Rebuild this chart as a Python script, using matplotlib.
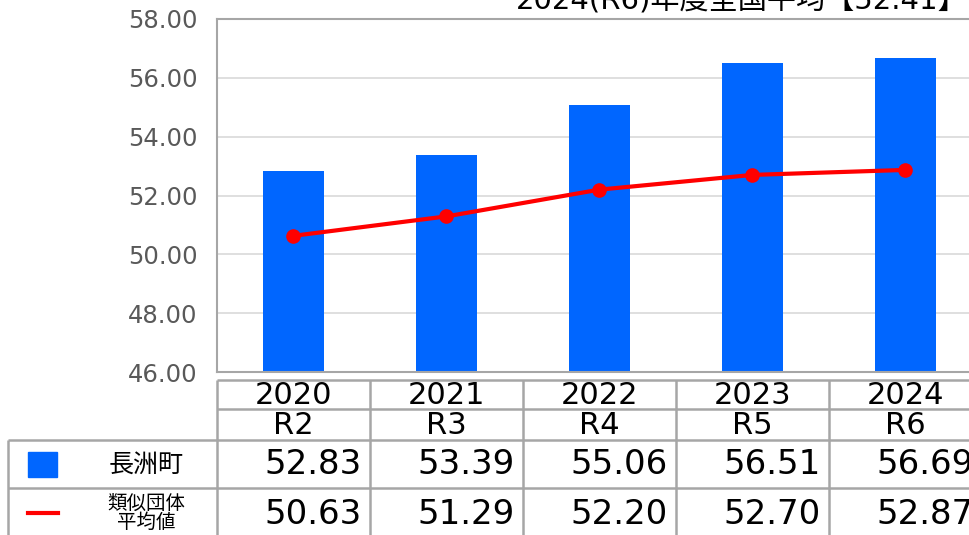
import matplotlib
matplotlib.use('Agg')
import matplotlib.pyplot as plt
import numpy as np

plt.rcParams['font.family'] = ['DejaVu Sans', 'Noto Sans CJK JP']

# data
years = ['2020', '2021', '2022', '2023', '2024']
eras = ['R2', 'R3', 'R4', 'R5', 'R6']
town = [52.83, 53.39, 55.06, 56.51, 56.69]
similar = [50.63, 51.29, 52.20, 52.70, 52.87]
town_name = '長洲町'
similar_name = '類似団体\n平均値'
title = '2024(R6)年度全国平均【52.41】'
yticks = [46, 48, 50, 52, 54, 56, 58]

W, H = 970, 535
fig = plt.figure(figsize=(W / 100, H / 100), dpi=100)

# plot area in pixel terms
left, right, top, bottom = 217, 982, 19, 372
colw = (right - left) / len(years)
grey = '#a6a6a6'

ax = fig.add_axes([left / W, 1 - bottom / H, (right - left) / W, (bottom - top) / H])
x = np.arange(len(years))
ax.bar(x, town, width=0.4, color='#0066ff', zorder=2)
ax.plot(x, similar, color='#ff0000', lw=3, marker='o', ms=9.5, zorder=3)
ax.set_xlim(-0.5, len(years) - 0.5)
ax.set_ylim(46, 58)
ax.set_yticks(yticks)
ax.set_yticklabels(['%.2f' % v for v in yticks])
ax.set_xticks([])
ax.tick_params(axis='y', length=0, pad=14, labelsize=17.5, labelcolor='#595959')
ax.grid(axis='y', color='#d9d9d9', lw=1.2, zorder=0)
for s in ['left', 'top', 'bottom']:
    ax.spines[s].set_color(grey)
    ax.spines[s].set_linewidth(1.5)
ax.spines['right'].set_visible(False)

# table drawn in pixel coordinates over the whole figure
tab = fig.add_axes([0, 0, 1, 1], zorder=-1)
tab.set_xlim(0, W)
tab.set_ylim(H, 0)
tab.axis('off')

rows = [380, 409, 440, 488, 560]
lw = 1.8
tab.hlines(rows[0], left, right + 10, color=grey, lw=lw)
tab.hlines(rows[1], left, right + 10, color=grey, lw=lw)
tab.hlines(rows[2], 8, right + 10, color=grey, lw=lw)
tab.hlines(rows[3], 8, right + 10, color=grey, lw=lw)
for i in range(len(years) + 1):
    tab.vlines(left + i * colw, rows[0], rows[4], color=grey, lw=lw)
tab.vlines(8, rows[2], rows[4], color=grey, lw=lw)

for i in range(len(years)):
    cx = left + (i + 0.5) * colw
    rx = left + (i + 1) * colw - 8
    tab.text(cx, 396, years[i], ha='center', va='center', fontsize=22)
    tab.text(cx, 425, eras[i], ha='center', va='center', fontsize=22)
    tab.text(rx, 465, '%.2f' % town[i], ha='right', va='center', fontsize=24.5)
    tab.text(rx, 514, '%.2f' % similar[i], ha='right', va='center', fontsize=24.5)

# legend keys in the table
tab.add_patch(plt.Rectangle((28, 452), 29, 25, color='#0066ff'))
tab.plot([28, 58], [513, 513], color='#ff0000', lw=3)
tab.text(146, 465, town_name, ha='center', va='center', fontsize=18)
tab.text(146, 513, similar_name, ha='center', va='center', fontsize=14,
         linespacing=1.0)

# title, cut off at the top of the image
tab.text(968, 9, title, ha='right', va='baseline', fontsize=21)

fig.savefig('out.png', dpi=100)
